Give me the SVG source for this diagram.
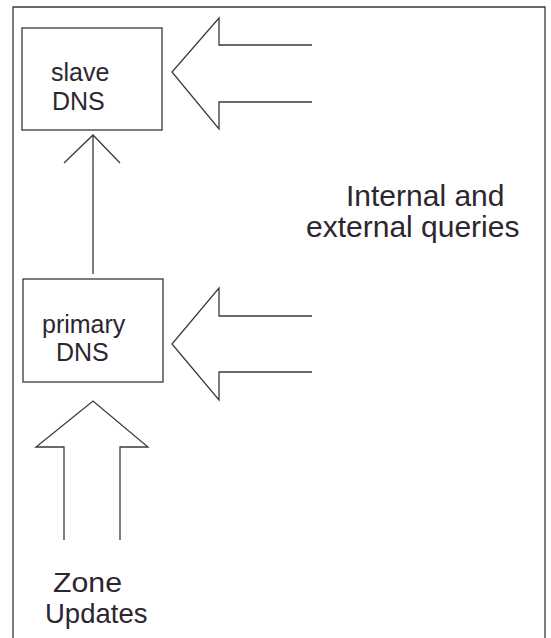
<svg xmlns="http://www.w3.org/2000/svg" width="551" height="638" viewBox="0 0 551 638">
<style>
.ln{fill:none;stroke:#3a3a3a;stroke-width:1.3}
.box{fill:#ffffff;stroke:#3a3a3a;stroke-width:1.3}
.t{font-family:"Liberation Sans",Arial,sans-serif;fill:#2d2630}
.s{font-size:25px}
.b{font-size:27.5px}
.q{font-size:30px}
</style>
<rect x="0" y="0" width="551" height="638" fill="#ffffff"/>
<path class="ln" d="M13,638 V7 H545 V638" stroke="#555" stroke-width="1.6"/>
<g id="slave">
<rect class="box" x="22" y="28" width="140" height="102"/>
<text class="t s" x="51" y="81">slave</text>
<text class="t s" x="52" y="110">DNS</text>
</g>
<g id="primary">
<rect class="box" x="23" y="279" width="140" height="103"/>
<text class="t s" x="42" y="333">primary</text>
<text class="t s" x="56" y="361">DNS</text>
</g>
<g id="queries">
<text class="t q" x="346" y="206">Internal and</text>
<text class="t q" x="306" y="237">external queries</text>
</g>
<g id="zone">
<text class="t b" x="53" y="592" textLength="69" lengthAdjust="spacingAndGlyphs">Zone</text>
<text class="t b" x="45" y="623">Updates</text>
</g>
<g id="connectors">
<path class="ln" d="M312,45 H219 V18 L172,72 L219,129 V102 H312"/>
<path class="ln" d="M312,316 H219 V288 L172,344 L219,400 V372 H312"/>
<path class="ln" d="M64,540 V447 H36 L93,401 L148,447 H120 V540"/>
<path class="ln" d="M93,274 V135 M64,163 L93,135 L120,163"/>
</g>
</svg>
